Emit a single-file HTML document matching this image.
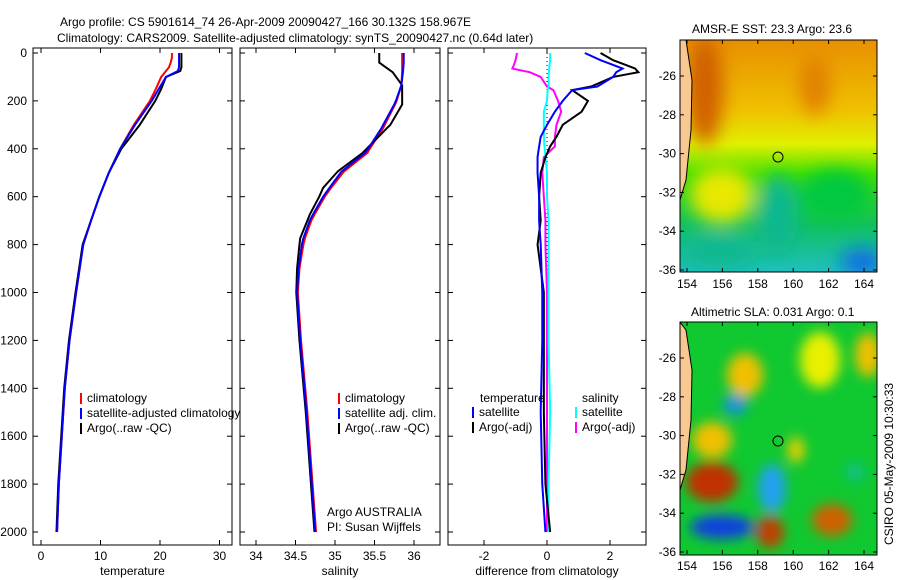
<!DOCTYPE html>
<html><head><meta charset="utf-8"><style>
body{margin:0;background:#fff}
svg{display:block;font-family:"Liberation Sans",sans-serif}
text{font-size:12px;fill:#000}
</style></head><body>
<svg id="c" width="900" height="580">
<defs>
<filter id="bl" filterUnits="userSpaceOnUse" x="600" y="0" width="300" height="600"><feGaussianBlur stdDeviation="9"/></filter>
<filter id="bl2" filterUnits="userSpaceOnUse" x="600" y="0" width="300" height="600"><feGaussianBlur stdDeviation="6"/></filter>
<clipPath id="m1c"><rect x="680" y="40" width="197" height="232"/></clipPath>
<clipPath id="m2c"><rect x="680" y="322" width="197" height="233"/></clipPath>
<linearGradient id="sstg" x1="0" y1="0" x2="0" y2="1">
<stop offset="0" stop-color="#e89000"/><stop offset="0.3" stop-color="#f0c000"/><stop offset="0.45" stop-color="#e0f000"/><stop offset="0.58" stop-color="#40e000"/><stop offset="0.8" stop-color="#10c060"/><stop offset="1" stop-color="#20c0c0"/></linearGradient>
</defs>
<text x="60" y="26">Argo profile: CS 5901614_74 26-Apr-2009 20090427_166 30.132S 158.967E</text>
<text x="57" y="42">Climatology: CARS2009. Satellite-adjusted climatology: synTS_20090427.nc (0.64d later)</text>
<g id="panels"></g>
<g>
<text x="692" y="33">AMSR-E SST: 23.3 Argo: 23.6</text>
<g clip-path="url(#m1c)">
<rect x="680" y="40" width="197" height="232" fill="url(#sstg)"/>
<g filter="url(#bl)">
<ellipse cx="705" cy="90" rx="18" ry="55" fill="#d06000"/>
<ellipse cx="815" cy="85" rx="15" ry="30" fill="#e08000"/>
<ellipse cx="722" cy="195" rx="32" ry="28" fill="#e8e800"/>
<ellipse cx="778" cy="215" rx="20" ry="40" fill="#10b890"/>
<ellipse cx="862" cy="262" rx="22" ry="14" fill="#1070e0"/>
<ellipse cx="720" cy="252" rx="40" ry="16" fill="#10b890"/>
<ellipse cx="835" cy="195" rx="35" ry="25" fill="#00c840"/>
</g>
<path d="M680 40 L686 40 L692 80 L691 130 L686 180 L680 200 Z" fill="#f8c890" stroke="#000" stroke-width="1"/>
</g>
<rect x="680" y="40" width="197" height="232" fill="none" stroke="#000"/>
<circle cx="778" cy="157" r="5" fill="none" stroke="#000"/>
<g id="m1ax"></g>
</g>
<g>
<text x="691" y="316">Altimetric SLA: 0.031 Argo: 0.1</text>
<g clip-path="url(#m2c)">
<rect x="680" y="322" width="197" height="233" fill="#10c830"/>
<g filter="url(#bl2)">
<ellipse cx="745" cy="375" rx="18" ry="22" fill="#f0c000"/>
<ellipse cx="820" cy="360" rx="20" ry="28" fill="#e8f000"/>
<ellipse cx="868" cy="355" rx="13" ry="22" fill="#f0c000"/>
<ellipse cx="735" cy="405" rx="12" ry="10" fill="#1890e0"/>
<ellipse cx="712" cy="482" rx="26" ry="20" fill="#c03000"/>
<ellipse cx="712" cy="440" rx="20" ry="18" fill="#f0c000"/>
<ellipse cx="722" cy="527" rx="32" ry="12" fill="#1040e0"/>
<ellipse cx="770" cy="532" rx="14" ry="16" fill="#c04000"/>
<ellipse cx="772" cy="488" rx="14" ry="24" fill="#20a0f0"/>
<ellipse cx="832" cy="520" rx="20" ry="16" fill="#d06000"/>
<ellipse cx="796" cy="450" rx="8" ry="13" fill="#f0d000"/>
<ellipse cx="855" cy="472" rx="9" ry="9" fill="#10c090"/>
</g>
<path d="M680 322 L686 330 L692 370 L691 420 L686 470 L680 490 Z" fill="#f8c890" stroke="#000" stroke-width="1"/>
</g>
<rect x="680" y="322" width="197" height="233" fill="none" stroke="#000"/>
<circle cx="778" cy="441" r="5" fill="none" stroke="#000"/>
<g id="m2ax"></g>
</g>
<text transform="translate(893,545) rotate(-90)">CSIRO 05-May-2009 10:30:33</text>
</svg>
<script>
const depths=[0,20,40,60,75,100,150,200,300,400,500,600,700,800,900,1000,1200,1400,1600,1800,2000];
const tempClim=[22.0,22.0,21.8,21.5,21.0,20.2,19.3,18.3,15.6,13.3,11.4,9.8,8.4,7.1,6.5,5.9,4.8,4.0,3.5,3.0,2.7];
const tempSat=[23.2,23.2,23.2,23.2,23.0,21.0,19.8,18.6,15.8,13.3,11.4,9.8,8.4,7.1,6.5,5.9,4.8,4.0,3.5,3.0,2.7];
const tempArgo=[23.6,23.6,23.6,23.6,23.4,21.0,20.2,19.2,16.6,13.5,11.4,9.8,8.4,7.0,6.4,5.8,4.7,3.9,3.4,2.9,2.6];
const sDepth=[0,40,80,135,200,215,300,313,400,417,493,500,563,600,675,700,773,800,900,1000,1200,1500,2000];
const salClim=[35.85,35.85,35.85,35.84,35.78,35.76,35.63,35.61,35.44,35.41,35.12,35.10,34.95,34.87,34.74,34.70,34.62,34.60,34.55,34.53,34.57,34.65,34.76];
const salSat=[35.87,35.87,35.86,35.84,35.77,35.75,35.61,35.59,35.42,35.38,35.09,35.07,34.93,34.85,34.72,34.68,34.60,34.58,34.54,34.52,34.56,34.64,34.75];
const salArgo=[35.56,35.56,35.73,35.85,35.85,35.85,35.70,35.66,35.40,35.35,35.04,35.02,34.85,34.80,34.68,34.65,34.56,34.55,34.52,34.51,34.55,34.63,34.74];
const dDepth=[0,30,50,65,80,100,140,155,200,245,300,350,390,435,500,600,700,800,1000,1200,1500,1800,2000];
const dTempSat=[1.2,1.7,2.1,2.4,2.2,2.1,1.6,0.8,0.5,0.25,0.0,-0.2,-0.25,-0.3,-0.3,-0.25,-0.25,-0.2,-0.15,-0.15,-0.2,-0.15,-0.05];
const dTempArgo=[1.7,2.1,2.5,2.8,2.9,2.1,1.4,0.8,1.3,1.1,0.5,0.3,0.1,-0.05,-0.2,-0.25,-0.2,-0.3,-0.1,-0.1,-0.1,-0.05,0.1];
const dSalSat=[0.1,0.1,0.08,0.07,0.06,0.05,0.05,0.02,0.0,-0.1,-0.1,-0.1,-0.08,-0.05,0.0,0.0,0.05,0.05,0.05,0.05,0.1,0.05,0.05];
const dSalArgo=[-0.95,-1.0,-1.05,-1.1,-0.55,-0.2,0.0,0.2,0.35,0.45,0.3,0.25,0.25,-0.1,-0.15,-0.1,-0.05,-0.05,0.0,0.0,0.0,0.0,0.0];
const depthTicks=[0,200,400,600,800,1000,1200,1400,1600,1800,2000];
const NS='http://www.w3.org/2000/svg';
const G=document.getElementById('panels');
const yD=d=>53+d*0.2395;
function el(t,a,p){const e=document.createElementNS(NS,t);for(const k in a)e.setAttribute(k,a[k]);(p||G).appendChild(e);return e;}
function txt(s,x,y,anchor,p){const e=el('text',{x:x,y:y,'text-anchor':anchor||'start'},p);e.textContent=s;return e;}
function panel(x0,x1,xs,xticks,xlab,name){
 const g=el('g',{});
 
 
 el('rect',{x:x0,y:48,width:x1-x0,height:497,fill:'#fff',stroke:'#000'},g);
 xticks.forEach(t=>{const x=xs(t);el('line',{x1:x,x2:x,y1:545,y2:540,stroke:'#000'},g);el('line',{x1:x,x2:x,y1:48,y2:53,stroke:'#000'},g);txt(String(t),x,560,'middle',g);});
 depthTicks.forEach(d=>{el('line',{x1:x0,x2:x0+5,y1:yD(d),y2:yD(d),stroke:'#000'},g);el('line',{x1:x1,x2:x1-5,y1:yD(d),y2:yD(d),stroke:'#000'},g);});
 const l=txt(xlab,(x0+x1)/2,575,'middle',g);
 
 
 return g;
}
function line(g,xs,vals,ds,col,w,name){
 const p=el('polyline',{points:vals.map((v,i)=>xs(v)+','+yD(ds[i])).join(' '),fill:'none',stroke:col,'stroke-width':w},g);
 
 
}
function legend(g,x,y,items){items.forEach((it,i)=>{el('rect',{x:x,y:y+i*15-9,width:2,height:11,fill:it[1]},g);txt(it[0],x+7,y+i*15,'start',g);});}
const xT=v=>41+v*5.95;
const g1=panel(33,232,xT,[0,10,20,30],'temperature','temperature-panel');
depthTicks.forEach(d=>{txt(String(d),27,yD(d)+4,'end',g1);});
line(g1,xT,tempClim,depths,'#f00',2,'temp-climatology-line');
line(g1,xT,tempArgo,depths,'#000',2,'temp-argo-line');
line(g1,xT,tempSat,depths,'#00f',2,'temp-satellite-line');
legend(g1,80,402,[['climatology','#f00'],['satellite-adjusted climatology','#00f'],['Argo(..raw -QC)','#000']]);
const xS=v=>256+(v-34)*79;
const g2=panel(240,440,xS,[34,34.5,35,35.5,36],'salinity','salinity-panel');
line(g2,xS,salClim,sDepth,'#f00',2,'sal-climatology-line');
line(g2,xS,salArgo,sDepth,'#000',2,'sal-argo-line');
line(g2,xS,salSat,sDepth,'#00f',2,'sal-satellite-line');
legend(g2,338,402,[['climatology','#f00'],['satellite adj. clim.','#00f'],['Argo(..raw -QC)','#000']]);
txt('Argo AUSTRALIA',327,516,'start',g2);txt('PI: Susan Wijffels',327,531,'start',g2);
const xDf=v=>547+v*31.5;
const g3=panel(448,646,xDf,[-2,0,2],'difference from climatology','difference-panel');
el('line',{x1:xDf(0),x2:xDf(0),y1:53,y2:532,stroke:'#000','stroke-dasharray':'1,3'},g3);
line(g3,xDf,dSalArgo,dDepth,'#f0f',2,'diff-sal-argo-line');
line(g3,xDf,dSalSat,dDepth,'#0ff',2,'diff-sal-satellite-line');
line(g3,xDf,dTempArgo,dDepth,'#000',2,'diff-temp-argo-line');
line(g3,xDf,dTempSat,dDepth,'#00f',2,'diff-temp-satellite-line');
txt('temperature',480,402,'start',g3);txt('salinity',582,402,'start',g3);
legend(g3,472,416,[['satellite','#00f'],['Argo(-adj)','#000']]);
legend(g3,575,416,[['satellite','#0ff'],['Argo(-adj)','#f0f']]);
const lonT=[154,156,158,160,162,164],latT=[-26,-28,-30,-32,-34,-36];
function mapAx(id,ytop){const g=document.getElementById(id);
 const xL=v=>687+(v-154)*17.7,yL=v=>ytop+(-v-26)*19.4;
 lonT.forEach(v=>{el('line',{x1:xL(v),x2:xL(v),y1:ytop-36,y2:ytop-32,stroke:'#000'},g);el('line',{x1:xL(v),x2:xL(v),y1:ytop+196,y2:ytop+192,stroke:'#000'},g);txt(String(v),xL(v),ytop+212,'middle',g);});
 latT.forEach(v=>{el('line',{x1:877,x2:873,y1:yL(v),y2:yL(v),stroke:'#000'},g);el('line',{x1:680,x2:684,y1:yL(v),y2:yL(v),stroke:'#000'},g);txt(String(v),676,yL(v)+4,'end',g);});
}
mapAx('m1ax',76);mapAx('m2ax',358);
</script>
</body></html>
